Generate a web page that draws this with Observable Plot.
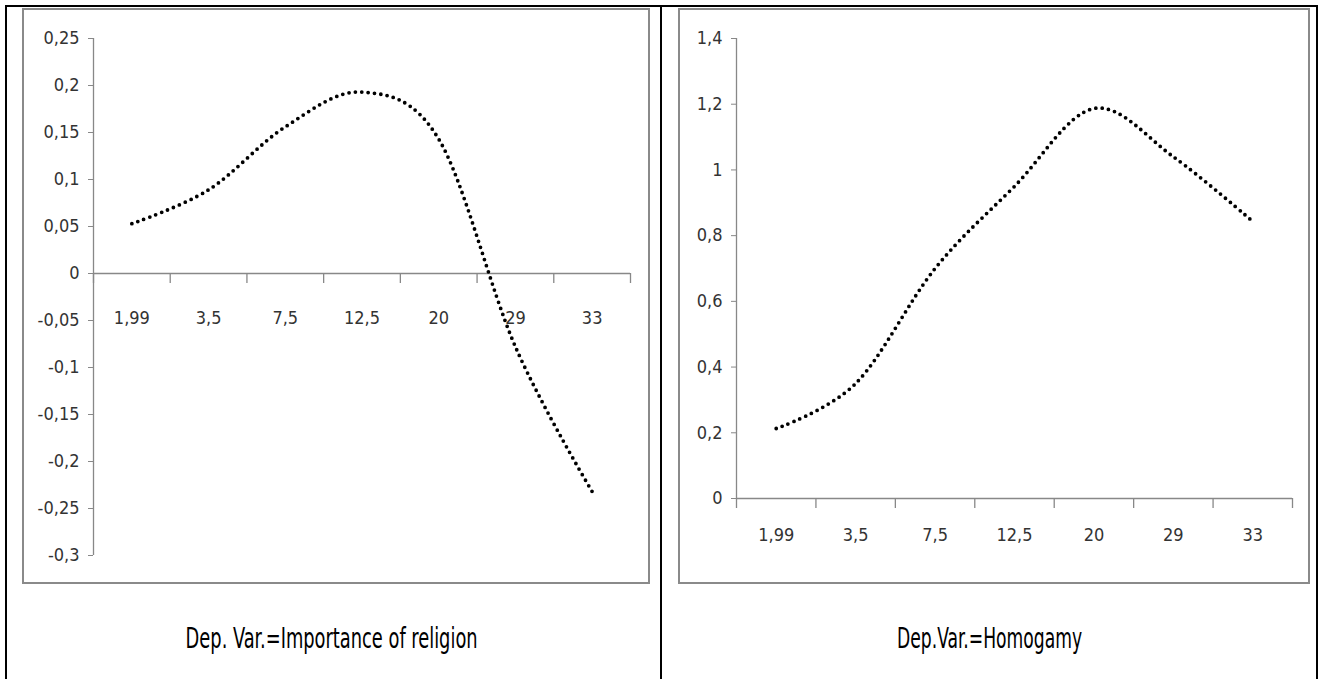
<!DOCTYPE html>
<html>
<head>
<meta charset="utf-8">
<script src="https://cdn.jsdelivr.net/npm/d3@7"></script>
<script src="https://cdn.jsdelivr.net/npm/@observablehq/plot@0.6"></script>
<style>
  html, body { margin: 0; padding: 0; background: #fff; }
  body { width: 1320px; height: 679px; position: relative; overflow: hidden; }
  .bl { position: absolute; background: #000; }
  .box { position: absolute; border: 2px solid #8a8a8a; box-sizing: border-box; background: #fff; }
  .box svg { position: absolute; left: 0; top: 0; overflow: visible; }
  .cap { position: absolute; white-space: nowrap; font-family: "DejaVu Sans Condensed", "DejaVu Sans", sans-serif; font-stretch: condensed; font-size: 29px; color: #000; transform-origin: center center; }
</style>
</head>
<body>
<div class="bl" style="left:5px;top:5px;width:1313px;height:2px"></div>
<div class="bl" style="left:5px;top:5px;width:2px;height:680px"></div>
<div class="bl" style="left:660px;top:5px;width:2px;height:680px"></div>
<div class="bl" style="left:1316px;top:5px;width:2px;height:680px"></div>

<div class="box" id="boxL" style="left:22px;top:8px;width:628px;height:576px"></div>
<div class="box" id="boxR" style="left:678px;top:8px;width:632px;height:576px"></div>

<div class="cap" id="capL"></div>
<div class="cap" id="capR"></div>

<script>
// ---- data ----
const categories = ["1,99", "3,5", "7,5", "12,5", "20", "29", "33"];
const religionValues = [0.053, 0.089, 0.156, 0.193, 0.143, -0.078, -0.232];
const homogamyValues = [0.213, 0.35, 0.70, 0.95, 1.187, 1.04, 0.843];
const religionTicks = [-0.3, -0.25, -0.2, -0.15, -0.1, -0.05, 0, 0.05, 0.1, 0.15, 0.2, 0.25];
const homogamyTicks = [0, 0.2, 0.4, 0.6, 0.8, 1, 1.2, 1.4];
const captionLeft = "Dep. Var.=Importance of religion";
const captionRight = "Dep.Var.=Homogamy";

const fontFam = '"DejaVu Sans Condensed", "DejaVu Sans", sans-serif';
const fmt = d => String(d).replace(".", ",");

function chart(values, ticks, opts) {
  const data = values.map((v, i) => ({i, v}));
  const bounds = d3.range(categories.length + 1).map(k => k - 0.5);
  const yMin = ticks[0], yMax = ticks[ticks.length - 1];
  return Plot.plot({
    width: opts.width,
    height: opts.height,
    marginLeft: opts.ml, marginRight: opts.mr, marginTop: opts.mt, marginBottom: opts.mb,
    style: {fontFamily: fontFam, fontStretch: "condensed", fontSize: "18px", background: "transparent", overflow: "visible"},
    x: {type: "linear", domain: [-0.5, categories.length - 0.5], axis: null},
    y: {domain: [yMin, yMax], axis: null},
    marks: [
      Plot.axisY({ticks, tickFormat: fmt, label: null, tickSize: 5, tickPadding: 9, stroke: "#888", fill: "#333", fontSize: 18}),
      Plot.ruleX([-0.5], {y1: yMin, y2: yMax, stroke: "#888", strokeWidth: 1.3}),
      Plot.ruleY([0], {x1: -0.5, x2: categories.length - 0.5, stroke: "#888", strokeWidth: 1.3}),
      Plot.ruleX(bounds, {x: d => d, y1: 0, y2: 0, insetBottom: -10, stroke: "#888", strokeWidth: 1.3}),
      Plot.text(categories, {x: (d, i) => i, y: 0, dy: opts.labelDy, text: d => d, fill: "#333", fontSize: 18}),
      Plot.line(data, {x: "i", y: "v", curve: "cardinal", stroke: "#000", strokeWidth: 3.8, strokeDasharray: "0 6.4", strokeLinecap: "round"})
    ]
  });
}

document.getElementById("boxL").appendChild(chart(religionValues, religionTicks,
  {width: 624, height: 572, ml: 69, mr: 18, mt: 28, mb: 27, labelDy: 45}));
document.getElementById("boxR").appendChild(chart(homogamyValues, homogamyTicks,
  {width: 628, height: 572, ml: 56, mr: 16, mt: 28, mb: 84, labelDy: 37}));

function placeCaption(id, text, cx, cy, targetW) {
  const el = document.getElementById(id);
  el.textContent = text;
  const r = el.getBoundingClientRect();
  const s = targetW / r.width;
  el.style.left = (cx - r.width / 2) + "px";
  el.style.top = (cy - r.height / 2) + "px";
  el.style.transform = `scaleX(${s})`;
}
placeCaption("capL", captionLeft, 332, 638, 292);
placeCaption("capR", captionRight, 990, 638, 185);
</script>
</body>
</html>
